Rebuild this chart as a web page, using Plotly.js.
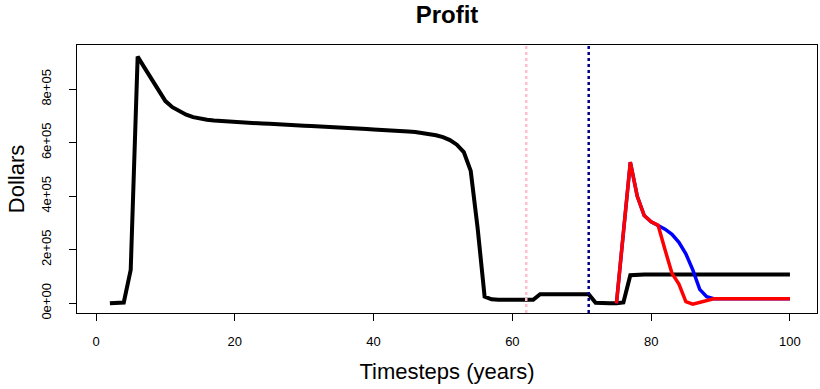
<!DOCTYPE html>
<html>
<head>
<meta charset="utf-8">
<script src="https://cdn.plot.ly/plotly-3.0.1.min.js"></script>
<style>html,body{margin:0;padding:0;background:#fff;}#chart{width:820px;height:389px;}</style>
</head>
<body>
<div id="chart"></div>
<script>
// Black series (baseline), timesteps 2..100
const blackT = [2,3,4,5,6,7,8,9,10,11,12,13,14,15,16,17,18,19,20,21,22,23,24,25,26,27,28,29,30,31,32,33,34,35,36,37,38,39,40,41,42,43,44,45,46,47,48,49,50,51,52,53,54,55,56,57,58,59,60,61,62,63,64,65,66,67,68,69,70,71,72,73,74,75,76,77,78,79,80,81,82,83,84,85,86,87,88,89,90,91,92,93,94,95,96,97,98,99,100];
const blackY = [0,0,3000,125000,922000,880000,838000,792000,756000,733000,717000,705000,696000,690000,686000,683000,681000,680000,678000,677000,675000,674000,672000,671000,669000,668000,667000,666000,664000,663000,662000,660000,659000,657000,656000,655000,653000,652000,650000,649000,648000,646000,644000,642000,640000,637000,633000,628000,621000,610000,593000,565000,495000,280000,25000,15000,13000,13000,13000,13000,13000,13000,34000,34000,34000,34000,34000,34000,34000,34000,2000,0,0,0,3000,105000,108000,108000,108000,108000,108000,108000,108000,108000,108000,108000,108000,108000,108000,108000,108000,108000,108000,108000,108000,108000,108000,108000,108000];
// Blue series, timesteps 75..100
const blueT = [75,76,77,78,79,80,81,82,83,84,85,86,87,88,89,90,91,92,93,94,95,96,97,98,99,100];
const blueY = [0,265000,528000,400000,328000,305000,292000,277000,258000,228000,185000,125000,52000,25000,17000,17000,17000,17000,17000,17000,17000,17000,17000,17000,17000,17000];
// Red series, timesteps 75..100
const redT = [75,76,77,78,79,80,81,82,83,84,85,86,87,88,89,90,91,92,93,94,95,96,97,98,99,100];
const redY = [0,265000,528000,400000,328000,305000,292000,200000,112000,72000,6000,-3000,3000,10000,17000,17000,17000,17000,17000,17000,17000,17000,17000,17000,17000,17000];
// Vertical reference lines (timesteps)
const pinkLineT = 62;
const navyLineT = 71;
// Axis ticks
const xTicks = [0,20,40,60,80,100];
const yTicks = [0,200000,400000,600000,800000];
const yTickText = ["0e+00","2e+05","4e+05","6e+05","8e+05"];

const FONT = "Liberation Sans, Arial, sans-serif";

const traces = [
  {x: blackT, y: blackY, mode: 'lines', line: {color: '#000000', width: 4}, hoverinfo: 'skip'},
  {x: blueT, y: blueY, mode: 'lines', line: {color: '#0000FF', width: 3.5}, hoverinfo: 'skip'},
  {x: redT, y: redY, mode: 'lines', line: {color: '#FF0000', width: 3.5}, hoverinfo: 'skip'}
];

const layout = {
  width: 820, height: 389,
  margin: {l: 77, r: 3, t: 45, b: 76},
  paper_bgcolor: '#ffffff', plot_bgcolor: '#ffffff',
  showlegend: false,
  font: {family: FONT, color: '#000000'},
  title: {text: 'Profit', font: {family: FONT, size: 24, weight: 'bold', color: '#000'},
          xref: 'paper', x: 0.5, xanchor: 'center', yref: 'container', y: 0.962, yanchor: 'middle'},
  xaxis: {
    range: [-2.74, 103.9], showgrid: false, zeroline: false,
    showline: true, linecolor: '#000', linewidth: 1, mirror: true,
    ticks: 'outside', ticklen: 7, tickwidth: 1, tickcolor: '#000',
    tickvals: xTicks, ticktext: xTicks.map(String),
    tickfont: {family: FONT, size: 13, color: '#000'}, ticklabelstandoff: 9,
    title: {text: 'Timesteps (years)', font: {family: FONT, size: 22, color: '#000'}, standoff: 16}
  },
  yaxis: {
    range: [-36260, 965600], showgrid: false, zeroline: false,
    showline: true, linecolor: '#000', linewidth: 1, mirror: true,
    ticks: 'outside', ticklen: 7, tickwidth: 1, tickcolor: '#000',
    tickvals: yTicks, ticktext: yTickText, tickangle: -90,
    tickfont: {family: FONT, size: 13, color: '#000'}, ticklabelstandoff: 13,
    title: {text: 'Dollars', font: {family: FONT, size: 22, color: '#000'}, standoff: 8}
  },
  shapes: [
    {type: 'line', xref: 'x', yref: 'paper', x0: pinkLineT, x1: pinkLineT, y0: 0, y1: 1,
     line: {color: '#FFC0CB', width: 2.5, dash: '3px,3px'}, layer: 'above'},
    {type: 'line', xref: 'x', yref: 'paper', x0: navyLineT, x1: navyLineT, y0: 0, y1: 1,
     line: {color: '#00008B', width: 2.5, dash: '3px,3px'}, layer: 'above'}
  ]
};

Plotly.newPlot('chart', traces, layout, {displayModeBar: false, staticPlot: true});
</script>
</body>
</html>
